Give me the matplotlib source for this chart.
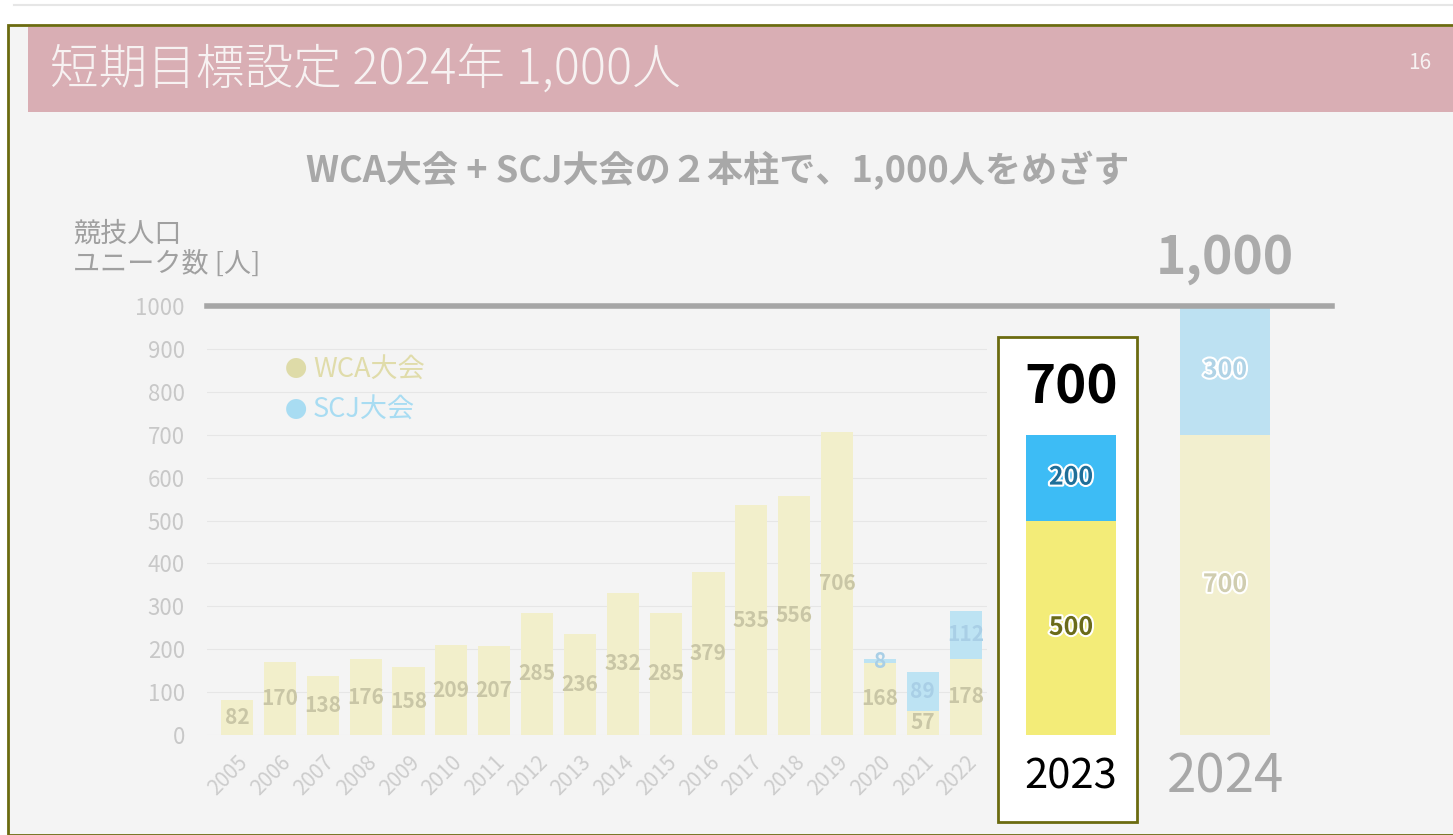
import matplotlib
matplotlib.use('Agg')
import matplotlib.pyplot as plt
import matplotlib.patheffects as pe
from matplotlib.patches import Rectangle
from matplotlib.lines import Line2D
from matplotlib.transforms import blended_transform_factory

plt.rcParams['font.family'] = ['Noto Sans CJK JP', 'DejaVu Sans']

# 実績 (2005-2022)
years = [str(y) for y in range(2005, 2023)]
wca = [82, 170, 138, 176, 158, 209, 207, 285, 236, 332, 285, 379, 535, 556, 706, 168, 57, 178]
scj = [0, 0, 0, 0, 0, 0, 0, 0, 0, 0, 0, 0, 0, 0, 0, 8, 89, 112]

# 目標 (2023, 2024)
goal_years = ['2023', '2024']
goal_wca = [500, 700]
goal_scj = [200, 300]
goal_total = [700, 1000]

W, H = 1453, 835
fig = plt.figure(figsize=(W / 100, H / 100), dpi=100)
fig.patch.set_facecolor('white')

def px(x, y, w, h):
    # ピクセル(左上原点) -> figure座標
    return [x / W, 1 - (y + h) / H, w / W, h / H]

# スライド背景
fig.lines.append(Line2D([14 / W, 1], [1 - 5 / H, 1 - 5 / H], transform=fig.transFigure,
                        color='#e6e6e6', linewidth=1.5, zorder=-4))
fig.patches.append(Rectangle((8 / W, 0), 1, (H - 25) / H, transform=fig.transFigure,
                             facecolor='#f4f4f4', edgecolor='#6b6b10', linewidth=2, zorder=-3))
fig.patches.append(Rectangle((28 / W, 1 - 112 / H), 1, 85 / H, transform=fig.transFigure,
                             facecolor='#d9aeb4', edgecolor='none', zorder=-2))
fig.text(50 / W, 1 - 70 / H, '短期目標設定 2024年 1,000人', color='#f7f2f2', fontsize=35,
         fontweight='light', va='center', ha='left')
fig.text(1420 / W, 1 - 63 / H, '16', color='#f7f2f2', fontsize=15, va='center', ha='center')

fig.text(718 / W, 1 - 170 / H, 'WCA大会 + SCJ大会の２本柱で、1,000人をめざす', color='#a8a8a8',
         fontsize=26, fontweight='bold', ha='center', va='center')
fig.text(73 / W, 1 - 249 / H, '競技人口\nユニーク数 [人]', color='#a0a0a0', fontsize=19.5,
         ha='left', va='center', linespacing=1.15)

# 2023 の白枠
fig.patches.append(Rectangle((998 / W, 1 - 822 / H), 139 / W, 485 / H, transform=fig.transFigure,
                             facecolor='white', edgecolor='#6b6b10', linewidth=2, zorder=-1))

# 実績グラフ
ax = fig.add_axes(px(207, 306, 780, 429))
ax.set_zorder(2)
ax.set_facecolor('none')
x = list(range(len(years)))
ax.bar(x, wca, width=0.75, color='#f2efcb', zorder=2)
ax.bar(x, scj, width=0.75, bottom=wca, color='#bde3f3', zorder=2)
for i in x:
    ax.text(i, wca[i] / 2, str(wca[i]), ha='center', va='center', fontsize=15,
            fontweight='bold', color='#c9c6a6', zorder=3)
    if scj[i]:
        ax.text(i, wca[i] + scj[i] / 2, str(scj[i]), ha='center', va='center', fontsize=15,
                fontweight='bold', color='#a9cfe6', zorder=3)
ax.set_xlim(-0.7, 17.5)
ax.set_ylim(0, 1000)
ax.set_yticks(range(0, 1001, 100))
ax.tick_params(axis='y', length=0, labelsize=16, labelcolor='#c8c8c8', pad=16)
ax.set_xticks(x)
ax.set_xticklabels(years, rotation=45, ha='right', rotation_mode='anchor')
ax.tick_params(axis='x', length=0, labelsize=15, labelcolor='#cdcdcd', pad=12)
for s in ax.spines.values():
    s.set_visible(False)
for v in range(0, 1000, 100):
    ax.axhline(v, color='#e6e6e6', linewidth=0.8, zorder=1)

ax.text(0.1, 0.851, '●', transform=ax.transAxes, color='#dedba8', fontsize=16, va='center')
ax.text(0.136, 0.851, 'WCA大会', transform=ax.transAxes, color='#e0dcaa', fontsize=19.5, va='center')
ax.text(0.1, 0.756, '●', transform=ax.transAxes, color='#a8dcf2', fontsize=16, va='center')
ax.text(0.136, 0.756, 'SCJ大会', transform=ax.transAxes, color='#a8dcf2', fontsize=19.5, va='center')

# 目標グラフ
ax2 = fig.add_axes(px(998, 306, 302, 429))
ax2.set_zorder(2)
ax2.set_facecolor('none')
ax2.set_xlim(-73 / 154, 229 / 154)
ax2.set_ylim(0, 1000)
ax2.axis('off')
gx = [0, 1]
wca_cols = ['#f3ec78', '#f2efcf']
scj_cols = ['#3dbcf5', '#bde1f2']
ax2.bar(gx, goal_wca, width=0.585, color=wca_cols, zorder=2)
ax2.bar(gx, goal_scj, width=0.585, bottom=goal_wca, color=scj_cols, zorder=2)
stroke = [pe.withStroke(linewidth=3, foreground='white')]
wca_txt = ['#6b6b1a', '#d0cdb0']
scj_txt = ['#1f6f99', '#b0d3e6']
for i in gx:
    ax2.text(i, goal_wca[i] / 2, str(goal_wca[i]), ha='center', va='center', fontsize=18,
             fontweight='bold', color=wca_txt[i], path_effects=stroke, zorder=3)
    ax2.text(i, goal_wca[i] + goal_scj[i] / 2, str(goal_scj[i]), ha='center', va='center',
             fontsize=18, fontweight='bold', color=scj_txt[i], path_effects=stroke, zorder=3)
ax2.text(0, goal_total[0] + 110, f'{goal_total[0]:,}', ha='center', va='center', fontsize=38,
         fontweight='bold', color='black', clip_on=False)
ax2.text(1, goal_total[1] + 110, f'{goal_total[1]:,}', ha='center', va='center', fontsize=37,
         fontweight='bold', color='#ababab', clip_on=False)
ax2.text(0, -98, goal_years[0], ha='center', va='center', fontsize=30, color='black', clip_on=False)
ax2.text(1, -98, goal_years[1], ha='center', va='center', fontsize=38, color='#a8a8a8', clip_on=False)

# 1000人ライン
tr = blended_transform_factory(fig.transFigure, ax.transData)
fig.lines.append(Line2D([207 / W, 1332 / W], [1000, 1000], transform=tr, color='#a6a6a6',
                        linewidth=4, zorder=4))

fig.savefig('out.png', dpi=100, facecolor=fig.get_facecolor())
